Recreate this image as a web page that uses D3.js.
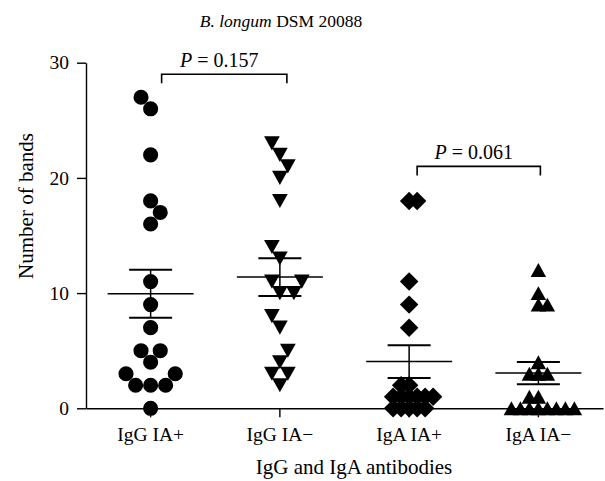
<!DOCTYPE html>
<html>
<head>
<meta charset="utf-8">
<script src="https://cdn.jsdelivr.net/npm/d3@7/dist/d3.min.js"></script>
<style>
  html, body { margin: 0; padding: 0; background: #fff; }
  svg { display: block; }
  text { font-family: 'Liberation Serif', 'DejaVu Serif', serif; fill: #000; }
</style>
</head>
<body>
<div id="chart"></div>
<script>
// Podaci — broj traka po skupini (očitano sa slike)
const groups  = ['IgG IA+', 'IgG IA\u2212', 'IgA IA+', 'IgA IA\u2212'];
const iggPos  = [27, 26, 22, 18, 17, 16, 11, 9, 7, 5, 5, 4, 3, 3, 2, 2, 2, 0];
const iggNeg  = [23, 22, 21, 20, 18, 14, 13, 11, 11, 10, 10, 8, 7, 5, 4, 3, 3, 2];
const igaPos  = [18, 18, 11, 9, 7, 2, 2, 1, 1, 1, 1, 1, 1, 0, 0, 0, 0, 0];
const igaNeg  = [12, 10, 9, 9, 4, 3, 3, 3, 1, 1, 0, 0, 0, 0, 0, 0, 0, 0];
const yTicks  = [0, 10, 20, 30];
const pValues = ['0.157', '0.061'];
const pPairs  = [[0, 1], [2, 3]];
const pLevels = [29, 21];

const W = 605, H = 481;
const x = d3.scaleBand().domain(groups).range([86, 603]).padding(0);
const y = d3.scaleLinear().domain([0, 30]).range([408.3, 62.7]);
const cx = g => x(g) + x.bandwidth() / 2;

const svg = d3.select('#chart').append('svg').attr('width', W).attr('height', H);

// Simboli — trokuti i romb centrirani po okviru
const triDown = { draw(c, s) { const w = Math.sqrt(s), h = w * 0.9;
  c.moveTo(-w / 2, -h / 2); c.lineTo(w / 2, -h / 2); c.lineTo(0, h / 2); c.closePath(); } };
const triUp = { draw(c, s) { const w = Math.sqrt(s), h = w * 0.9;
  c.moveTo(0, -h / 2); c.lineTo(w / 2, h / 2); c.lineTo(-w / 2, h / 2); c.closePath(); } };
const diamond = { draw(c, s) { const r = Math.sqrt(s) / 2;
  c.moveTo(0, -r); c.lineTo(r, 0); c.lineTo(0, r); c.lineTo(-r, 0); c.closePath(); } };

const series = [
  { vals: iggPos, type: d3.symbolCircle, size: 180, gap: 15 },
  { vals: iggNeg, type: triDown,         size: 246, gap: 14 },
  { vals: igaPos, type: diamond,         size: 340, gap: 8 },
  { vals: igaNeg, type: triUp,           size: 240, gap: 9 },
];

/** Beeswarm — svaka točka najbliže sredini bez preklapanja */
function swarm(vals, gap) {
  const placed = [];
  [...vals].sort((a, b) => a - b).forEach(v => {
    const py = y(v);
    const near = placed.filter(p => Math.abs(p.y - py) < gap);
    const cand = [0];
    near.forEach(p => {
      const d = Math.sqrt(gap * gap - (p.y - py) ** 2);
      cand.push(p.x + d, p.x - d);
    });
    const ok = cand.filter(c => near.every(p => Math.hypot(p.x - c, p.y - py) >= gap - 1e-6));
    const bal = d3.sum(placed, p => Math.sign(p.x));
    ok.sort((a, b) => (Math.abs(a) - Math.abs(b)) || (bal > 0 ? a - b : b - a));
    placed.push({ v, x: ok[0], y: py });
  });
  return placed;
}

// Os Y
const yAxis = svg.append('g').attr('transform', 'translate(86,0)')
  .call(d3.axisLeft(y).tickValues(yTicks).tickSize(9).tickPadding(8).tickSizeOuter(0));
yAxis.selectAll('text').attr('font-size', 19.5).attr('font-family', 'Liberation Serif');

// Os X
const xAxis = svg.append('g').attr('transform', `translate(0,${y(0)})`)
  .call(d3.axisBottom(x).tickSize(9).tickPadding(10).tickSizeOuter(0));
xAxis.selectAll('text').attr('font-size', 19.5).attr('font-family', 'Liberation Serif');
[yAxis, xAxis].forEach(a => a.selectAll('path, line').attr('stroke', '#000').attr('stroke-width', 1.4));

// Točke
series.forEach((s, i) => {
  const g = groups[i], sym = d3.symbol().type(s.type).size(s.size);
  svg.append('g').selectAll('path').data(swarm(s.vals, s.gap)).join('path')
    .attr('d', sym).attr('fill', '#000')
    .attr('transform', d => `translate(${cx(g) + d.x},${d.y})`);
});

// Srednja vrijednost ± SEM
series.forEach((s, i) => {
  const c = cx(groups[i]);
  const m = d3.mean(s.vals), sem = d3.deviation(s.vals) / Math.sqrt(s.vals.length);
  const bar = svg.append('g').attr('stroke', '#000');
  bar.append('line').attr('x1', c - 43).attr('x2', c + 43).attr('y1', y(m)).attr('y2', y(m)).attr('stroke-width', 1.5);
  bar.append('line').attr('x1', c).attr('x2', c).attr('y1', y(m + sem)).attr('y2', y(m - sem)).attr('stroke-width', 1.5);
  [m + sem, m - sem].forEach(v =>
    bar.append('line').attr('x1', c - 21.5).attr('x2', c + 21.5).attr('y1', y(v)).attr('y2', y(v)).attr('stroke-width', 2)
  );
});

// Zagrade s P vrijednostima
const bracketDx = [[11, 7], [8, 2]];
pPairs.forEach(([a, b], i) => {
  const x1 = cx(groups[a]) + bracketDx[i][0], x2 = cx(groups[b]) + bracketDx[i][1], yy = y(pLevels[i]);
  svg.append('path').attr('d', `M${x1},${yy + 9}V${yy}H${x2}V${yy + 9}`)
    .attr('fill', 'none').attr('stroke', '#000').attr('stroke-width', 1.6);
  const t = svg.append('text').attr('x', (x1 + x2) / 2 - 5).attr('y', yy - 7.5)
    .attr('text-anchor', 'middle').attr('font-size', 20);
  t.append('tspan').attr('font-style', 'italic').text('P');
  t.append('tspan').text(' = ' + pValues[i]);
});

// Naslov i nazivi osi
const title = svg.append('text').attr('x', 281).attr('y', 27).attr('text-anchor', 'middle').attr('font-size', 17.5);
title.append('tspan').attr('font-style', 'italic').text('B. longum');
title.append('tspan').text(' DSM 20088');

svg.append('text').attr('x', 354).attr('y', 474).attr('text-anchor', 'middle')
  .attr('font-size', 21).text('IgG and IgA antibodies');
svg.append('text').attr('transform', 'translate(33,206) rotate(-90)').attr('text-anchor', 'middle')
  .attr('font-size', 21).text('Number of bands');
</script>
</body>
</html>
